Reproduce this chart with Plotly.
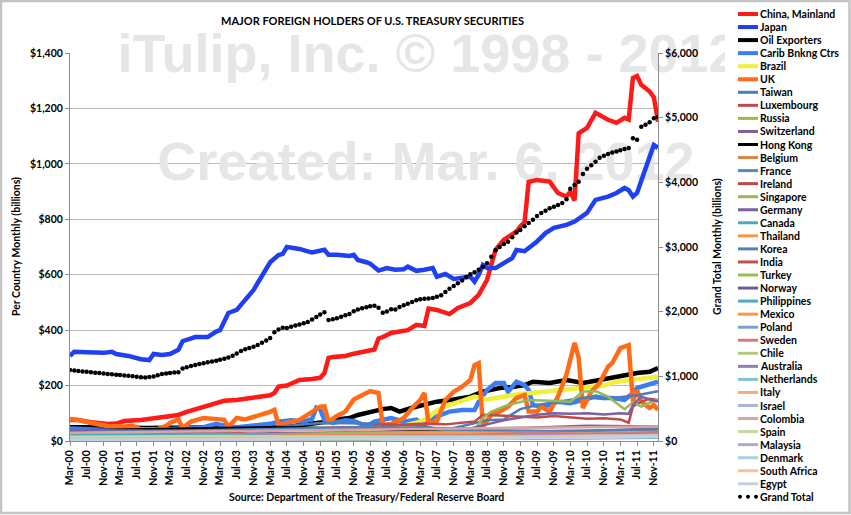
import pandas as pd
import plotly.graph_objects as go

# ---------------- data (billions of US$) ----------------
MONTHS = pd.date_range("2000-03-01", periods=142, freq="MS")   # Mar-00 .. Dec-11
TICK_MONTHS = MONTHS[::4]
LEFT_TICKS = list(range(0, 1401, 200))
RIGHT_TICKS = list(range(0, 6001, 1000))

CHINA_IDX = [0, 2, 5, 9, 11, 13, 17, 21, 24, 26, 28, 31, 33, 35, 37, 40, 43, 45, 48, 49, 50, 52, 55, 58, 60, 61,
             62, 63, 66, 68, 70, 72, 73, 74, 75, 77, 79, 81, 83, 85, 86, 88, 91, 93, 96, 98, 100, 101, 102, 104,
             107, 108, 109, 110, 112, 114, 115, 117, 119, 120, 121, 122, 124, 126, 129, 131, 133, 134, 135, 136,
             137, 139, 140, 141]
CHINA = [76, 76, 68, 61, 63, 72, 76, 83, 90, 94, 105, 119, 125, 137, 145, 148, 155, 159, 165, 173, 196, 200, 220,
         224, 228, 245, 300, 303, 307, 315, 320, 328, 330, 370, 375, 390, 393, 400, 419, 415, 478, 473, 458, 480,
         498, 527, 581, 640, 690, 726, 756, 774, 790, 935, 942, 938, 936, 895, 882, 900, 868, 1110, 1130, 1184,
         1159, 1148, 1166, 1160, 1310, 1317, 1285, 1261, 1240, 1152]

JAPAN_IDX = [0, 1, 4, 8, 10, 11, 14, 17, 19, 20, 22, 24, 26, 27, 30, 33, 35, 36, 38, 40, 44, 48, 50, 51, 52, 55,
             57, 58, 61, 62, 64, 66, 67, 68, 69, 71, 72, 74, 76, 78, 80, 81, 83, 85, 87, 88, 90, 92, 94, 96, 97,
             98, 99, 100, 102, 104, 106, 107, 109, 112, 114, 116, 119, 121, 124, 126, 129, 131, 133, 134, 135,
             136, 138, 139, 140, 141]
JAPAN = [307, 322, 320, 318, 322, 314, 307, 295, 292, 314, 310, 314, 329, 360, 375, 375, 395, 400, 462, 473, 545,
         645, 671, 675, 700, 693, 684, 680, 690, 672, 672, 670, 668, 672, 653, 645, 640, 615, 624, 618, 620, 629,
         614, 618, 624, 593, 603, 585, 590, 593, 575, 600, 635, 624, 624, 640, 660, 689, 685, 720, 750, 769, 780,
         792, 823, 870, 882, 895, 913, 905, 882, 895, 990, 1026, 1068, 1058]

OIL_IDX = [0, 6, 12, 18, 24, 30, 36, 42, 48, 54, 58, 62, 64, 67, 69, 72, 75, 77, 79, 82, 85, 88, 92, 96, 99, 103,
           106, 109, 111, 115, 119, 123, 127, 131, 136, 139, 141]
OIL = [50, 52, 50, 47, 48, 52, 50, 46, 48, 55, 62, 70, 78, 83, 94, 106, 115, 119, 106, 120, 130, 142, 150, 160,
       178, 191, 195, 202, 214, 209, 220, 209, 220, 232, 245, 250, 263]

CARIB_IDX = [0, 6, 12, 18, 24, 28, 32, 35, 37, 40, 44, 48, 50, 53, 56, 58, 59, 60, 61, 63, 66, 68, 70, 71, 73,
             75, 77, 80, 83, 85, 87, 91, 94, 97, 98, 100, 102, 104, 105, 107, 109, 110, 111, 113, 115, 117, 120,
             123, 126, 128, 130, 133, 135, 136, 138, 140, 141]
CARIB = [45, 40, 38, 38, 42, 45, 50, 62, 55, 50, 55, 62, 70, 75, 70, 80, 120, 115, 75, 65, 75, 72, 60, 52, 70,
         77, 83, 70, 77, 58, 83, 106, 112, 112, 142, 184, 209, 209, 178, 214, 202, 184, 130, 124, 130, 142, 136,
         148, 160, 155, 155, 148, 173, 191, 202, 209, 214]

BRAZIL_IDX = [0, 12, 24, 36, 48, 52, 56, 60, 64, 68, 72, 76, 80, 84, 86, 88, 91, 94, 97, 100, 104, 108, 112, 115,
              118, 123, 128, 131, 136, 141]
BRAZIL = [12, 10, 12, 14, 15, 18, 23, 25, 28, 30, 35, 45, 55, 70, 85, 110, 130, 145, 160, 150, 160, 170, 175,
          180, 185, 190, 200, 214, 222, 232]

UK_IDX = [0, 2, 5, 9, 13, 15, 17, 21, 23, 24, 26, 27, 29, 32, 36, 37, 38, 40, 42, 45, 48, 49, 50, 52, 55, 57, 60,
          61, 62, 64, 66, 68, 70, 72, 74, 75, 77, 80, 82, 84, 85, 86, 88, 90, 92, 94, 96, 97, 98, 99, 101, 103,
          105, 107, 109, 110, 112, 113, 115, 117, 119, 121, 122, 123, 125, 127, 129, 130, 132, 133, 134, 135,
          136, 137, 139, 140, 141]
UK = [79, 76, 65, 54, 52, 55, 42, 43, 55, 65, 79, 47, 70, 83, 78, 76, 50, 83, 78, 90, 105, 112, 58, 65, 76, 95,
      124, 125, 70, 90, 106, 150, 165, 180, 173, 58, 61, 83, 119, 148, 173, 65, 70, 148, 178, 196, 220, 274, 281,
      52, 94, 106, 124, 155, 166, 106, 106, 124, 106, 160, 240, 354, 300, 119, 178, 209, 268, 281, 335, 340,
      346, 142, 184, 142, 119, 130, 112]

TAIWAN_IDX = [0, 12, 24, 36, 48, 60, 72, 84, 90, 96, 100, 104, 108, 112, 116, 120, 124, 128, 132, 136, 141]
TAIWAN = [35, 33, 35, 45, 50, 65, 63, 55, 40, 60, 75, 78, 115, 130, 140, 150, 158, 152, 158, 165, 180]

LUX_IDX = [0, 12, 24, 36, 48, 60, 66, 72, 74, 78, 84, 90, 97, 99, 104, 108, 112, 116, 120, 124, 128, 132, 134,
           135, 137, 139, 141]
LUXEMBOURG = [25, 22, 28, 30, 38, 45, 50, 48, 60, 58, 62, 60, 70, 95, 92, 88, 85, 90, 84, 80, 82, 78, 66, 125,
              142, 152, 148]

RUSSIA_IDX = [0, 24, 48, 72, 90, 96, 97, 99, 101, 105, 110, 115, 120, 123, 126, 129, 131, 133, 135, 137, 139, 141]
RUSSIA = [5, 3, 3, 5, 20, 30, 40, 83, 106, 130, 148, 145, 142, 178, 180, 160, 136, 115, 140, 124, 138, 150]

SWISS_IDX = [0, 12, 24, 36, 48, 60, 72, 84, 96, 100, 104, 108, 112, 116, 120, 124, 128, 132, 134, 135, 137, 139,
             141]
SWITZERLAND = [20, 18, 15, 22, 28, 30, 32, 40, 45, 60, 75, 85, 95, 100, 98, 100, 96, 100, 98, 130, 160, 150, 142]

HK_IDX = [0, 24, 48, 72, 84, 96, 104, 110, 116, 124, 132, 141]
HONG_KONG = [38, 45, 50, 45, 40, 25, 20, 25, 28, 32, 34, 38]

MINOR_IDX = [0, 36, 72, 96, 110, 124, 141]
BELGIUM = [10, 12, 15, 15, 18, 20, 25]
FRANCE = [8, 10, 12, 15, 20, 18, 12]
IRELAND = [15, 18, 20, 18, 30, 35, 45]
SINGAPORE = [25, 22, 30, 35, 38, 30, 20]
GERMANY = [40, 35, 50, 45, 48, 55, 52]
CANADA = [20, 25, 18, 15, 8, 10, 12]
THAILAND = [8, 12, 18, 22, 25, 30, 35]
KOREA = [30, 40, 50, 40, 35, 38, 42]
INDIA = [5, 8, 12, 15, 20, 25, 30]
TURKEY = [3, 8, 10, 15, 22, 26, 25]
NORWAY = [12, 15, 20, 15, 18, 20, 25]
PHILIPPINES = [3, 5, 6, 8, 12, 20, 28]
MEXICO = [12, 15, 25, 30, 30, 28, 25]
POLAND = [4, 6, 8, 12, 20, 25, 28]
SWEDEN = [15, 18, 20, 22, 30, 25, 30]
CHILE = [3, 4, 6, 8, 12, 15, 20]
AUSTRALIA = [5, 8, 10, 15, 18, 20, 25]
NETHERLANDS = [12, 10, 15, 12, 14, 18, 22]
ITALY = [10, 8, 12, 14, 15, 18, 22]
ISRAEL = [5, 8, 12, 15, 18, 20, 22]
COLOMBIA = [30, 35, 40, 45, 48, 50, 52]
SPAIN = [15, 18, 16, 14, 15, 18, 20]
MALAYSIA = [2, 5, 10, 12, 14, 12, 14]
DENMARK = [5, 8, 10, 12, 15, 16, 18]
SOUTH_AFRICA = [3, 5, 8, 10, 12, 14, 16]
EGYPT = [2, 4, 6, 8, 10, 12, 14]

GRAND_TOTAL = [
    1098, 1092, 1084, 1076, 1070, 1062, 1056, 1050, 1044, 1038,
    1032, 1026, 1020, 1014, 1008, 1002, 992, 986, 982, 988,
    998, 1018, 1036, 1044, 1052, 1058, 1064, 1122, 1142, 1160,
    1176, 1190, 1202, 1216, 1228, 1242, 1256, 1272, 1292, 1320,
    1352, 1392, 1420, 1440, 1458, 1486, 1520, 1556, 1594, 1680,
    1726, 1752, 1748, 1766, 1786, 1800, 1820, 1842, 1878, 1916,
    1958, 1992, 1872, 1884, 1900, 1922, 1946, 1962, 2008, 2034,
    2052, 2068, 2082, 2092, 2060, 1982, 2002, 2036, 2032, 2072,
    2100, 2122, 2150, 2178, 2192, 2198, 2204, 2212, 2232, 2252,
    2306, 2356, 2398, 2440, 2482, 2538, 2578, 2610, 2648, 2696,
    2748, 2850, 2950, 3000, 3048, 3082, 3150, 3224, 3262, 3320,
    3370, 3420, 3480, 3524, 3560, 3600, 3622, 3650, 3680, 3740,
    3900, 3960, 4010, 4130, 4210, 4266, 4320, 4380, 4410, 4440,
    4462, 4478, 4496, 4514, 4530, 4680, 4660, 4860, 4890, 4930,
    4990, 5010]

# name, colour, line width, month indices, values
SERIES = [
    ("China, Mainland", "#ff1a1a", 4.5, CHINA_IDX, CHINA),
    ("Japan", "#1f3ff2", 4.5, JAPAN_IDX, JAPAN),
    ("Oil Exporters", "#000000", 4.5, OIL_IDX, OIL),
    ("Carib Bnkng Ctrs", "#3b7df2", 4.5, CARIB_IDX, CARIB),
    ("Brazil", "#f0f03a", 4.5, BRAZIL_IDX, BRAZIL),
    ("UK", "#ff6b17", 4.5, UK_IDX, UK),
    ("Taiwan", "#4a7ebb", 2.5, TAIWAN_IDX, TAIWAN),
    ("Luxembourg", "#be4b48", 2.5, LUX_IDX, LUXEMBOURG),
    ("Russia", "#98b954", 2.5, RUSSIA_IDX, RUSSIA),
    ("Switzerland", "#7d60a0", 2.5, SWISS_IDX, SWITZERLAND),
    ("Hong Kong", "#000000", 2.5, HK_IDX, HONG_KONG),
    ("Belgium", "#d9874a", 2.5, MINOR_IDX, BELGIUM),
    ("France", "#5b87c0", 2.5, MINOR_IDX, FRANCE),
    ("Ireland", "#b84a48", 2.5, MINOR_IDX, IRELAND),
    ("Singapore", "#9ab956", 2.5, MINOR_IDX, SINGAPORE),
    ("Germany", "#7a62a0", 2.5, MINOR_IDX, GERMANY),
    ("Canada", "#46aac5", 2.5, MINOR_IDX, CANADA),
    ("Thailand", "#f79646", 2.5, MINOR_IDX, THAILAND),
    ("Korea", "#4f81bd", 2.5, MINOR_IDX, KOREA),
    ("India", "#c0504d", 2.5, MINOR_IDX, INDIA),
    ("Turkey", "#9bbb59", 2.5, MINOR_IDX, TURKEY),
    ("Norway", "#6b5a9c", 2.5, MINOR_IDX, NORWAY),
    ("Philippines", "#4bacc6", 2.5, MINOR_IDX, PHILIPPINES),
    ("Mexico", "#f59a48", 2.5, MINOR_IDX, MEXICO),
    ("Poland", "#7f9fd4", 2.5, MINOR_IDX, POLAND),
    ("Sweden", "#d77b7a", 2.5, MINOR_IDX, SWEDEN),
    ("Chile", "#b0c982", 2.5, MINOR_IDX, CHILE),
    ("Australia", "#8f7fb5", 2.5, MINOR_IDX, AUSTRALIA),
    ("Netherlands", "#7ec4d9", 2.5, MINOR_IDX, NETHERLANDS),
    ("Italy", "#f9ae78", 2.5, MINOR_IDX, ITALY),
    ("Israel", "#a9b3de", 2.5, MINOR_IDX, ISRAEL),
    ("Colombia", "#dba4a4", 2.5, MINOR_IDX, COLOMBIA),
    ("Spain", "#c5d6a6", 2.5, MINOR_IDX, SPAIN),
    ("Malaysia", "#b1a7c9", 2.5, MINOR_IDX, MALAYSIA),
    ("Denmark", "#a6d4e2", 2.5, MINOR_IDX, DENMARK),
    ("South Africa", "#fbc09c", 2.5, MINOR_IDX, SOUTH_AFRICA),
    ("Egypt", "#c6cfe6", 2.5, MINOR_IDX, EGYPT),
]

TITLE = "MAJOR FOREIGN HOLDERS OF U.S. TREASURY SECURITIES"
SOURCE = "Source: Department of the Treasury/Federal Reserve Board"
WATERMARK_1 = "iTulip, Inc. \u00a9 1998 - 2012"
WATERMARK_2 = "Created: Mar. 6, 2012"

# ---------------- layout geometry (pixels) ----------------
W, H = 851, 515
L, T, PW, PH = 70, 53, 588, 388
FONT = "Lato, 'Liberation Sans', Arial, sans-serif"


def px_x(px):
    return (px - L) / PW


def px_y(py):
    return (T + PH - py) / PH


def date_at(px):
    t0, t1 = MONTHS[0], MONTHS[-1]
    return t0 + (t1 - t0) * ((px - L) / PW)


def money(v):
    return "${:,}".format(v)


fig = go.Figure()

# watermark (behind the data)
fig.add_trace(go.Scatter(
    x=[date_at(428), date_at(426)], y=[1382, 990], mode="text",
    text=[WATERMARK_1, WATERMARK_2], textposition="middle center",
    textfont=dict(family="'Liberation Sans', Arial, sans-serif", size=54, color="#e6e6e6", weight="bold"),
    cliponaxis=False, showlegend=False, hoverinfo="skip"))

for name, color, width, idx, vals in SERIES:
    fig.add_trace(go.Scatter(
        x=[MONTHS[i] for i in idx], y=vals, name=name, mode="lines",
        line=dict(color=color, width=width, shape="linear"), showlegend=False))

fig.add_trace(go.Scatter(
    x=MONTHS, y=GRAND_TOTAL, name="Grand Total", mode="markers", yaxis="y2",
    marker=dict(color="#000000", size=4.5), showlegend=False))

tickfont = dict(family=FONT, size=10.5, color="#000000", weight="bold")

fig.update_layout(
    width=W, height=H,
    margin=dict(l=L, r=W - L - PW, t=T, b=H - T - PH, pad=0),
    paper_bgcolor="white", plot_bgcolor="white",
    font=dict(family=FONT, size=10.5, color="#000000"),
    showlegend=False,
    xaxis=dict(
        type="date", range=[MONTHS[0], MONTHS[-1]],
        tickvals=list(TICK_MONTHS), tickformat="%b-%y", tickangle=-90,
        tickfont=tickfont, showgrid=False, showline=True, linecolor="#8c8c8c", linewidth=1,
        ticks="outside", ticklen=4, tickcolor="#8c8c8c", zeroline=False),
    yaxis=dict(
        range=[0, 1400], tickmode="array", tickvals=LEFT_TICKS, ticktext=[money(v) for v in LEFT_TICKS],
        tickfont=tickfont, showgrid=True, gridcolor="#b9b9b9", gridwidth=1,
        showline=True, linecolor="#8c8c8c", ticks="outside", ticklen=4, tickcolor="#8c8c8c",
        zeroline=False),
    yaxis2=dict(
        range=[0, 6000], tickmode="array", tickvals=RIGHT_TICKS, ticktext=[money(v) for v in RIGHT_TICKS],
        overlaying="y", side="right", tickfont=tickfont, showgrid=False,
        showline=True, linecolor="#8c8c8c", ticks="outside", ticklen=4, tickcolor="#8c8c8c",
        zeroline=False),
)

annotations = [
    dict(text=TITLE, x=px_x(372), y=px_y(20), xref="paper", yref="paper", showarrow=False,
         xanchor="center", yanchor="middle", font=dict(family=FONT, size=11, weight="bold")),
    dict(text=SOURCE, x=px_x(366), y=px_y(497), xref="paper", yref="paper", showarrow=False,
         xanchor="center", yanchor="middle", font=dict(family=FONT, size=10.5, weight="bold")),
    dict(text="Per Country Monthly (billions)", x=px_x(16), y=px_y(247), xref="paper", yref="paper",
         showarrow=False, textangle=-90, xanchor="center", yanchor="middle",
         font=dict(family=FONT, size=10.5, weight="bold")),
    dict(text="Grand Total Monthly (billions)", x=px_x(717), y=px_y(247), xref="paper", yref="paper",
         showarrow=False, textangle=-90, xanchor="center", yanchor="middle",
         font=dict(family=FONT, size=10.5, weight="bold")),
]

shapes = [
    # legend background (hides the watermark overflow)
    dict(type="rect", xref="paper", yref="paper", x0=px_x(725), x1=px_x(848), y0=px_y(508), y1=px_y(3),
         fillcolor="white", line=dict(width=0), layer="above"),
    # outer frame
    dict(type="rect", xref="paper", yref="paper", x0=px_x(1), x1=px_x(849.5), y0=px_y(513), y1=px_y(1),
         fillcolor="rgba(0,0,0,0)", line=dict(color="#c4c4c4", width=2.5), layer="above"),
]

# custom compact legend
LEG_Y0, LEG_DY = 14, 13.05
for k, (name, color, width, idx, vals) in enumerate(SERIES):
    yy = px_y(LEG_Y0 + LEG_DY * k)
    shapes.append(dict(type="line", xref="paper", yref="paper", x0=px_x(738), x1=px_x(758), y0=yy, y1=yy,
                       line=dict(color=color, width=4 if width > 3 else 3), layer="above"))
    annotations.append(dict(text=name, x=px_x(758), y=yy, xref="paper", yref="paper", showarrow=False,
                            xanchor="left", yanchor="middle",
                            font=dict(family=FONT, size=10.5, weight="bold")))
k = len(SERIES)
yy_px = LEG_Y0 + LEG_DY * k
for cx in (740, 748, 756):
    shapes.append(dict(type="circle", xref="paper", yref="paper",
                       x0=px_x(cx - 2), x1=px_x(cx + 2), y0=px_y(yy_px + 2), y1=px_y(yy_px - 2),
                       fillcolor="#000000", line=dict(width=0), layer="above"))
annotations.append(dict(text="Grand Total", x=px_x(758), y=px_y(yy_px), xref="paper", yref="paper",
                        showarrow=False, xanchor="left", yanchor="middle",
                        font=dict(family=FONT, size=10.5, weight="bold")))

fig.update_layout(annotations=annotations, shapes=shapes)
fig.write_html("out.html", config={"displayModeBar": False},
               post_script="document.body.style.margin='0px';")
